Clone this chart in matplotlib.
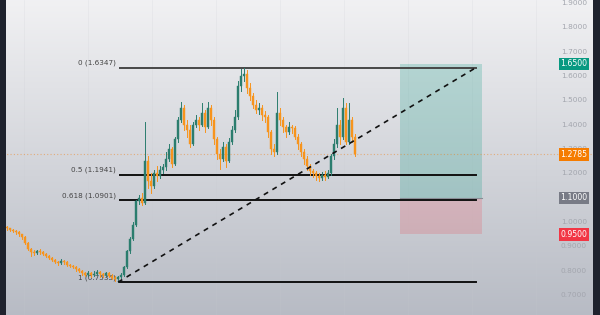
import numpy as np
import matplotlib
matplotlib.use("Agg")
import matplotlib.pyplot as plt
from matplotlib.patches import Rectangle

# candle data (one bar per session)
closes = [0.975, 0.968, 0.962, 0.958, 0.950, 0.940, 0.915, 0.890, 0.878, 0.872,
          0.880, 0.876, 0.870, 0.862, 0.852, 0.846, 0.838, 0.832, 0.842, 0.836,
          0.826, 0.820, 0.815, 0.806, 0.798, 0.790, 0.784, 0.790, 0.782, 0.788,
          0.795, 0.786, 0.783, 0.790, 0.780, 0.772, 0.768, 0.775, 0.785, 0.815,
          0.880, 0.930, 0.990, 1.085, 1.100, 1.080, 1.250, 1.170, 1.150, 1.200,
          1.190, 1.215, 1.225, 1.260, 1.300, 1.240, 1.340, 1.420, 1.470, 1.400,
          1.380, 1.320, 1.400, 1.420, 1.400, 1.450, 1.390, 1.470, 1.420, 1.340,
          1.280, 1.260, 1.310, 1.250, 1.330, 1.380, 1.430, 1.560, 1.600, 1.610,
          1.550, 1.520, 1.480, 1.460, 1.470, 1.440, 1.430, 1.370, 1.300, 1.290,
          1.450, 1.420, 1.390, 1.370, 1.390, 1.385, 1.350, 1.320, 1.290, 1.260,
          1.230, 1.210, 1.200, 1.190, 1.180, 1.195, 1.185, 1.200, 1.270, 1.320,
          1.400, 1.350, 1.470, 1.330, 1.420, 1.350, 1.2785]
highs = [0.985, 0.978, 0.972, 0.966, 0.962, 0.953, 0.945, 0.918, 0.895, 0.884,
         0.886, 0.890, 0.880, 0.874, 0.866, 0.856, 0.850, 0.842, 0.850, 0.846,
         0.840, 0.830, 0.824, 0.818, 0.810, 0.802, 0.795, 0.800, 0.795, 0.798,
         0.805, 0.800, 0.792, 0.796, 0.794, 0.786, 0.778, 0.780, 0.790, 0.820,
         0.885, 0.940, 1.000, 1.090, 1.110, 1.120, 1.410, 1.270, 1.200, 1.215,
         1.230, 1.230, 1.240, 1.290, 1.320, 1.310, 1.350, 1.430, 1.495, 1.480,
         1.420, 1.400, 1.410, 1.440, 1.430, 1.490, 1.460, 1.495, 1.480, 1.430,
         1.350, 1.300, 1.330, 1.320, 1.345, 1.395, 1.460, 1.580, 1.630, 1.6347,
         1.625, 1.570, 1.530, 1.500, 1.490, 1.480, 1.455, 1.440, 1.380, 1.320,
         1.535, 1.470, 1.430, 1.400, 1.410, 1.400, 1.395, 1.360, 1.330, 1.300,
         1.270, 1.240, 1.220, 1.210, 1.200, 1.205, 1.210, 1.215, 1.280, 1.340,
         1.470, 1.420, 1.510, 1.490, 1.490, 1.430, 1.360]
lows = [0.968, 0.962, 0.958, 0.952, 0.945, 0.932, 0.910, 0.884, 0.860, 0.866,
        0.868, 0.870, 0.864, 0.857, 0.848, 0.840, 0.834, 0.826, 0.828, 0.830,
        0.820, 0.815, 0.810, 0.800, 0.794, 0.785, 0.778, 0.780, 0.776, 0.777,
        0.784, 0.775, 0.776, 0.778, 0.774, 0.766, 0.760, 0.7535, 0.770, 0.780,
        0.810, 0.875, 0.925, 0.985, 1.075, 1.070, 1.075, 1.140, 1.120, 1.140,
        1.170, 1.180, 1.200, 1.215, 1.250, 1.225, 1.235, 1.330, 1.410, 1.380,
        1.350, 1.310, 1.315, 1.390, 1.380, 1.395, 1.370, 1.385, 1.400, 1.320,
        1.260, 1.220, 1.250, 1.225, 1.245, 1.320, 1.370, 1.425, 1.540, 1.580,
        1.530, 1.500, 1.470, 1.450, 1.445, 1.420, 1.410, 1.350, 1.280, 1.270,
        1.280, 1.400, 1.370, 1.350, 1.360, 1.365, 1.340, 1.300, 1.270, 1.240,
        1.215, 1.195, 1.185, 1.175, 1.168, 1.172, 1.175, 1.180, 1.195, 1.260,
        1.310, 1.320, 1.340, 1.320, 1.320, 1.330, 1.270]
first_open = 0.980

fib_levels = [0.0, 0.5, 0.618, 1.0]
fib_top = 1.6347
fib_bottom = 0.7535

target_price = 1.65
entry_price = 1.10
stop_price = 0.95
last_price = 1.2785

price_ticks = [1.9, 1.8, 1.7, 1.6, 1.5, 1.4, 1.3, 1.2, 1.0, 0.9, 0.8, 0.7]

UP = "#2b7d6e"
DOWN = "#f7941d"


def px(p):
    # pixel column -> bar index units
    return (p - 7) / 3.0


opens = [first_open] + closes[:-1]
n = len(closes)
xs = np.arange(n)

fig = plt.figure(figsize=(6, 3.15), dpi=100)
ax = fig.add_axes([0, 0, 1, 1])
ymax = 1.9 + 3 / 243.5
ymin = 1.9 - 312 / 243.5
ax.set_xlim(px(0), px(600))
ax.set_ylim(ymin, ymax)
ax.axis("off")

# background gradient
grad = np.linspace(0, 1, 256).reshape(-1, 1)
top = np.array([0.945, 0.945, 0.953])
bot = np.array([0.72, 0.735, 0.77])
img = top + (bot - top) * grad[:, :, None]
ax.imshow(img, extent=[px(0), px(600), ymin, ymax], aspect="auto", zorder=0)

# faint vertical grid
for g in range(24, 593, 64):
    ax.axvline(px(g), color="#c8cad0", lw=0.5, alpha=0.25, zorder=1)

# position box
x0, x1 = px(400), px(482)
ax.add_patch(Rectangle((x0, entry_price), x1 - x0, target_price - entry_price,
                       facecolor="#089981", alpha=0.22, lw=0, zorder=2))
ax.add_patch(Rectangle((x0, stop_price), x1 - x0, entry_price - stop_price,
                       facecolor="#f23645", alpha=0.18, lw=0, zorder=2))
ax.plot([x0, x1], [entry_price, entry_price], color="#8a8d96", lw=0.8, zorder=2)

# last price line
ax.axhline(last_price, color="#f57c00", lw=0.8, ls=(0, (1, 2)), alpha=0.45, zorder=2)

# fib levels
fx0, fx1 = px(120), px(476)
for lv in fib_levels:
    price = fib_top - lv * (fib_top - fib_bottom)
    col = "#474747" if lv == 0 else "#111111"
    ax.plot([fx0, fx1], [price, price], color=col, lw=1.4, zorder=3)
    ax.text(px(116), price + 0.006, "%g (%.4f)" % (lv, price), ha="right", va="bottom",
            fontsize=5.2, color="#444444", zorder=3)

# candles
for i in xs:
    o, c, h, l = opens[i], closes[i], highs[i], lows[i]
    col = UP if c >= o else DOWN
    ax.plot([i, i], [min(l, o, c), max(h, o, c)], color=col, lw=0.7, zorder=4)
    ax.add_patch(Rectangle((i - 0.33, min(o, c)), 0.66, max(abs(c - o), 0.002),
                           facecolor=col, edgecolor=col, lw=0.3, zorder=4))

# trend line
ax.plot([px(118), px(476)], [fib_bottom, fib_top], color="#111111", lw=1.2,
        ls=(0, (3, 3)), zorder=5)

# price scale
for t in price_ticks:
    ax.text(px(587), t, "%.4f" % t, ha="right", va="center", fontsize=5.3,
            color="#a3a6ae", zorder=5)

for val, bg in [(target_price, "#089981"), (last_price, "#f57c00"),
                (entry_price, "#787b86"), (stop_price, "#f23645")]:
    ax.text(px(574), val, "%.4f" % val, ha="center", va="center", fontsize=5.6,
            color="white", zorder=6,
            bbox=dict(boxstyle="square,pad=0.22", facecolor=bg, edgecolor="none"))

# dark side strips
ax.add_patch(Rectangle((px(0), ymin), px(6) - px(0), ymax - ymin,
                       facecolor="#1e222d", lw=0, zorder=7))
ax.add_patch(Rectangle((px(593), ymin), px(600) - px(593), ymax - ymin,
                       facecolor="#1e222d", lw=0, zorder=7))

fig.savefig("out.png", dpi=100)
